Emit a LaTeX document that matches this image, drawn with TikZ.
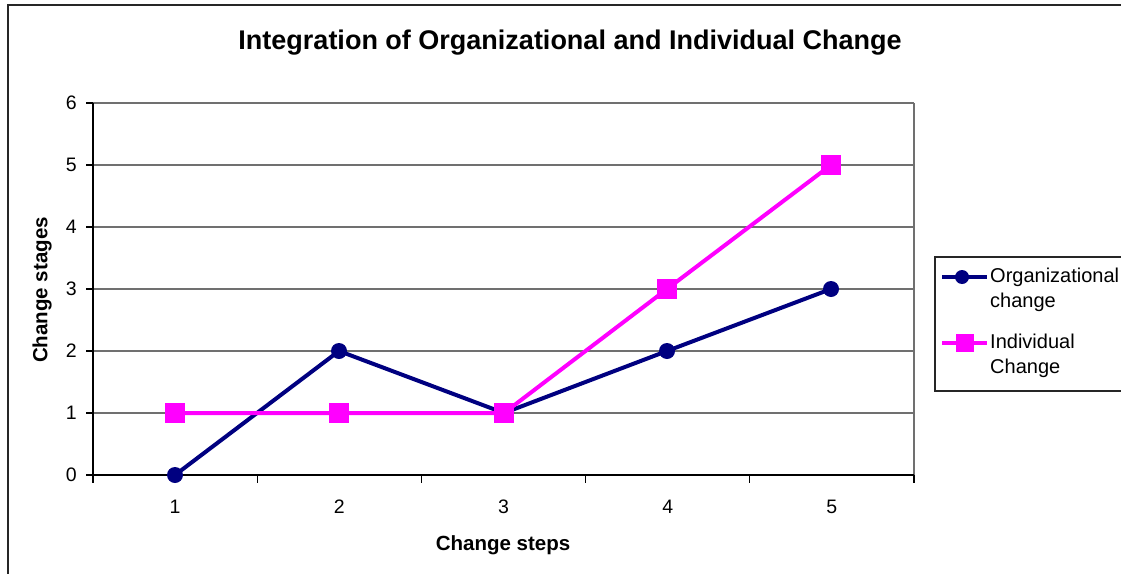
\documentclass[tikz,border=0pt]{standalone}
\usepackage{fontspec}
\setmainfont{Liberation Sans}
\definecolor{orgc}{HTML}{000080}
\definecolor{indc}{HTML}{FF00FF}
\definecolor{gridc}{HTML}{707070}
\begin{document}
\begin{tikzpicture}[x=1pt,y=-1pt,
  frame/.style={draw=black!85,line width=1.5pt},
  gridline/.style={draw=gridc,line width=1.1pt},
  axisline/.style={draw=black,line width=1.1pt},
  tickline/.style={draw=black,line width=1.1pt},
  orgline/.style={draw=orgc,line width=4pt,line join=round},
  indline/.style={draw=indc,line width=4pt,line join=round},
  orgmark/.style={circle,fill=orgc,inner sep=0pt,minimum size=16pt},
  indmark/.style={rectangle,fill=indc,inner sep=0pt,minimum size=20pt},
  ticklab/.style={font=\fontsize{19.5}{22}\selectfont,inner sep=0pt},
  axlab/.style={font=\fontsize{20.5}{24}\selectfont\bfseries,inner sep=0pt},
  legtext/.style={font=\fontsize{20}{25.5}\selectfont,anchor=west,align=left,inner sep=0pt}]
\useasboundingbox (0,0) rectangle (1121,573);
\clip (0,0) rectangle (1121,573);
% outer frame
\draw[frame] (8,600) -- (8,5) -- (1130,5);
% title
\node[font=\fontsize{27}{30}\selectfont\bfseries,inner sep=0pt] (title) at (570,42.5) {Integration of Organizational and Individual Change};
% gridlines
\foreach \v in {1,...,6} {
  \draw[gridline] (93,{475-62*\v}) -- (914,{475-62*\v});
}
\draw[gridline] (914,103) -- (914,475);
% axes
\draw[axisline] (93,103) -- (93,475) -- (914,475);
\foreach \v in {0,...,6} {
  \draw[tickline] (86,{475-62*\v}) -- (93,{475-62*\v});
  \node[ticklab,anchor=east] (yl\v) at (77,{475-62*\v}) {\v};
}
\foreach \i in {0,...,5} {
  \draw[tickline] ({93+164.2*\i},475) -- ({93+164.2*\i},483);
}
\foreach \i in {1,...,5} {
  \node[ticklab] (xl\i) at ({93+164.2*(\i-0.5)},507) {\i};
}
% axis titles
\node[axlab] (xtitle) at (503,545) {Change steps};
\node[axlab,rotate=90] (ytitle) at (42,290) {Change stages};
% data coordinates
\coordinate (o1) at (175,475);
\coordinate (o2) at (339,351);
\coordinate (o3) at (504,413);
\coordinate (o4) at (667,351);
\coordinate (o5) at (831,289);
\coordinate (i1) at (175,413);
\coordinate (i2) at (339,413);
\coordinate (i3) at (504,413);
\coordinate (i4) at (667,289);
\coordinate (i5) at (831,165);
% series
\draw[orgline] (o1) -- (o2) -- (o3) -- (o4) -- (o5);
\draw[indline] (i1) -- (i2) -- (i3) -- (i4) -- (i5);
\foreach \k in {1,...,5} {
  \node[orgmark] (om\k) at (o\k) {};
}
\foreach \k in {1,...,5} {
  \node[indmark] (im\k) at (i\k) {};
}
% legend
\draw[draw=black!85,line width=1.2pt,fill=white] (935,257) rectangle (1130,391);
\coordinate (lo1) at (942,277);
\coordinate (lo2) at (987,277);
\coordinate (li1) at (942,343);
\coordinate (li2) at (987,343);
\draw[orgline] (lo1) -- (lo2);
\node[orgmark,minimum size=14pt] (lom) at (962,277) {};
\draw[indline] (li1) -- (li2);
\node[indmark,minimum size=18pt] (lim) at (965,343) {};
\node[legtext] (lot) at (990,290) {Organizational\\change};
\node[legtext] (lit) at (990,356) {Individual\\Change};
\end{tikzpicture}
\end{document}
